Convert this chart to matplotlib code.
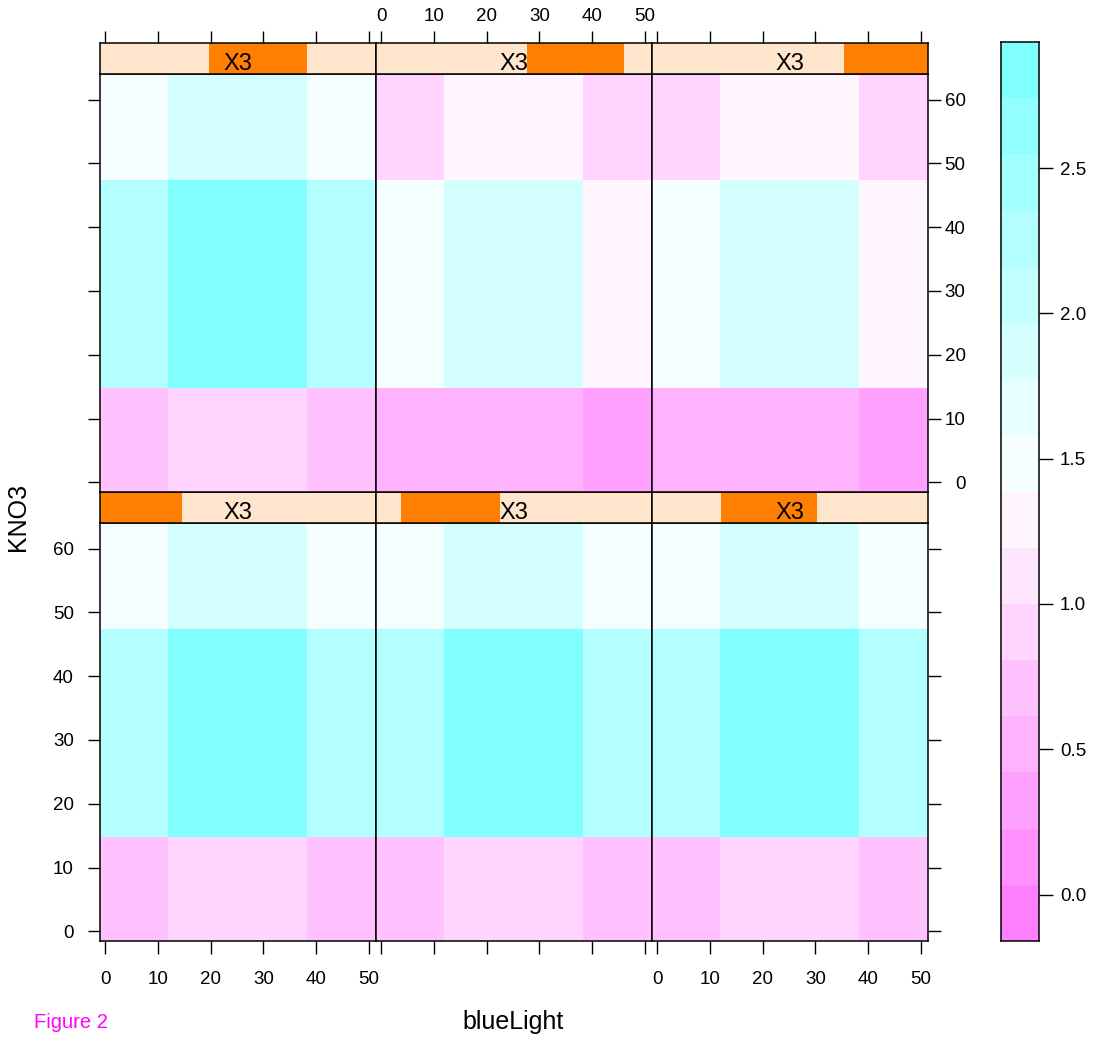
import numpy as np
import matplotlib
matplotlib.use("Agg")
import matplotlib.pyplot as plt
from matplotlib.colors import ListedColormap, BoundaryNorm
from matplotlib.patches import Rectangle

plt.rcParams['font.family'] = ['Liberation Sans', 'DejaVu Sans']

# grid of the fitted surface
blue_light = [0, 23.8, 52.6]
kno3 = [0, 29.6, 65.2]

# fitted response per X3 slice; rows = KNO3 (low->high), cols = blueLight
z_p1 = [[0.71, 0.90, 0.70], [2.25, 2.80, 2.26], [1.48, 1.87, 1.49]]
z_p2 = [[0.71, 0.90, 0.70], [2.25, 2.80, 2.26], [1.48, 1.87, 1.49]]
z_p3 = [[0.71, 0.90, 0.70], [2.25, 2.80, 2.26], [1.48, 1.87, 1.49]]
z_p4 = [[0.71, 0.90, 0.70], [2.25, 2.80, 2.26], [1.48, 1.87, 1.49]]
z_p5 = [[0.52, 0.50, 0.33], [1.48, 1.87, 1.29], [0.90, 1.29, 0.91]]
z_p6 = [[0.52, 0.50, 0.33], [1.48, 1.87, 1.29], [0.90, 1.29, 0.91]]
panels = [z_p1, z_p2, z_p3, z_p4, z_p5, z_p6]

# shingle intervals of X3 (fraction of the X3 range) shown in the strips
x3_lo = [0.0, 0.092, 0.25, 0.397, 0.548, 0.699]
x3_hi = [0.30, 0.45, 0.60, 0.753, 0.90, 1.0]

# colour key breaks
at = np.linspace(-0.16, 2.934, 17)
key_ticks = [0.0, 0.5, 1.0, 1.5, 2.0, 2.5]

xlim = (-1.13, 51.3)
ylim = (-1.52, 64.0)
xt = [0, 10, 20, 30, 40, 50]
yt = [0, 10, 20, 30, 40, 50, 60]


def cm_colors_rev(n):
    # lattice default regions: rev(cm.colors(n))
    k = n // 2
    cols = []
    for s in np.linspace(0.5, 0.01, k):
        cols.append((1.0, 1.0 - s, 1.0))
    for s in np.linspace(0.01, 0.5, n - k):
        cols.append((1.0 - s, 1.0, 1.0))
    return cols


regions = cm_colors_rev(100)
ncol = len(at) - 1
idx = np.round(np.linspace(0, 99, ncol)).astype(int)
cmap = ListedColormap([regions[i] for i in idx])
norm = BoundaryNorm(at, ncol)


def edges(v):
    v = np.asarray(v, float)
    mid = (v[1:] + v[:-1]) / 2
    return np.concatenate([[(3 * v[0] - v[1]) / 2], mid, [(3 * v[-1] - v[-2]) / 2]])


W, H = 1097, 1041
fig = plt.figure(figsize=(W / 100, H / 100), dpi=100)


def box(x0, y0, x1, y1):
    return [x0 / W, 1 - y1 / H, (x1 - x0) / W, (y1 - y0) / H]


col_x = [99.5, 375.5, 651.5]
pw = 276
row_y = {0: (74, 492, 43), 1: (523, 941, 492)}  # panel top, panel bottom, strip top

lw = 1.1
tick_kw = dict(direction='out', length=9, width=1, labelsize=13.5, pad=4)
xe, ye = edges(blue_light), edges(kno3)

for i, z in enumerate(panels):
    row = 1 if i < 3 else 0
    col = i % 3
    x0 = col_x[col]
    ptop, pbot, stop = row_y[row]

    ax = fig.add_axes(box(x0, ptop, x0 + pw, pbot))
    ax.pcolormesh(xe, ye, np.array(z), cmap=cmap, norm=norm,
                  antialiased=False, edgecolor='face', linewidth=0)
    ax.set_xlim(xlim)
    ax.set_ylim(ylim)
    ax.set_xticks(xt)
    ax.set_yticks(yt)
    ax.tick_params(**tick_kw)
    ax.tick_params(top=False, labeltop=False,
                   bottom=(row == 1), labelbottom=(row == 1 and col != 1),
                   left=(col == 0), labelleft=(col == 0 and row == 1),
                   right=(col == 2), labelright=(col == 2 and row == 0))
    ax.tick_params(axis='x', which='major', pad=12.5)
    ax.tick_params(axis='y', which='major', pad=9.5)
    if col == 2:
        ax.tick_params(axis='y', which='major', pad=18.5)
        for tk in ax.yaxis.get_major_ticks():
            tk.label2.set_horizontalalignment('right')
    for sp in ax.spines.values():
        sp.set_linewidth(lw)

    # strip with shingle level
    sx = fig.add_axes(box(x0, stop, x0 + pw, ptop))
    sx.set_facecolor('#FFE5CC')
    sx.set_xlim(xlim)
    sx.set_ylim(0, 1)
    sx.add_patch(Rectangle((x3_lo[i], 0), x3_hi[i] - x3_lo[i], 1,
                           transform=sx.transAxes, facecolor='#FF7F00',
                           edgecolor='none', zorder=1))
    sx.text(0.5, 0.13, 'X3', transform=sx.transAxes, ha='center', va='baseline',
            fontsize=17, zorder=3)
    sx.set_yticks([])
    sx.set_xticks(xt)
    sx.tick_params(**tick_kw)
    sx.tick_params(bottom=False, labelbottom=False,
                   top=(row == 0), labeltop=(row == 0 and col == 1))
    for sp in sx.spines.values():
        sp.set_linewidth(lw)
        sp.set_zorder(4)

# colour key
kx = fig.add_axes(box(1001, 42, 1039, 941))
mids = (at[1:] + at[:-1]) / 2
kx.pcolormesh([0, 1], at, mids[:, None], cmap=cmap, norm=norm,
              antialiased=False, edgecolor='face', linewidth=0)
kx.set_xlim(0, 1)
kx.set_ylim(at[0], at[-1])
kx.set_xticks([])
kx.set_yticks(key_ticks)
kx.set_yticklabels(['%.1f' % t for t in key_ticks])
kx.tick_params(direction='out', length=10, width=1, labelsize=13.5, pad=5,
               left=False, labelleft=False, right=True, labelright=True)
for sp in kx.spines.values():
    sp.set_linewidth(lw)

fig.text(18 / W, 1 - 517 / H, 'KNO3', rotation=90, ha='center', va='center', fontsize=18)
fig.text(513 / W, 1 - 1022 / H, 'blueLight', ha='center', va='center', fontsize=18)
fig.text(34 / W, 1 - 1022 / H, 'Figure 2', ha='left', va='center', fontsize=14.5,
         color='#FF00FF')

fig.savefig('out.png', dpi=100)
